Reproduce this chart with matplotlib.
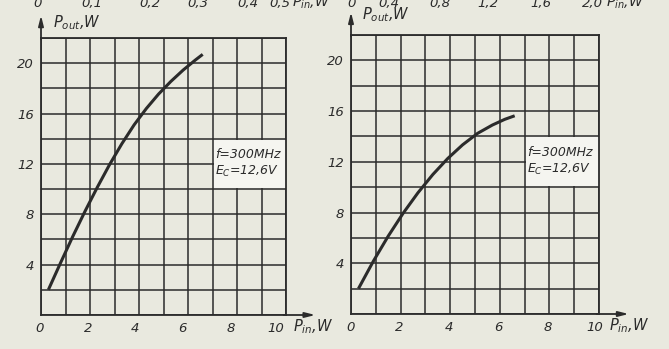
import matplotlib
matplotlib.use("Agg")
import matplotlib.pyplot as plt
from matplotlib.patches import Rectangle
from matplotlib.transforms import ScaledTranslation

# ---------------- data ----------------
left_pin = [0.3, 0.8, 1.3, 1.8, 2.3, 2.8, 3.3, 3.8, 4.3, 4.8, 5.3, 5.8, 6.3, 6.6]
left_pout = [2.0, 4.15, 6.25, 8.25, 10.15, 11.95, 13.6, 15.1, 16.4, 17.55, 18.55,
             19.45, 20.25, 20.7]

right_pin = [0.3, 0.9, 1.5, 2.1, 2.7, 3.3, 3.9, 4.5, 5.1, 5.7, 6.2, 6.6]
right_pout = [2.0, 4.16, 6.14, 7.94, 9.56, 11.0, 12.26, 13.34, 14.24, 14.9, 15.35, 15.63]

x_ticks = [0, 2, 4, 6, 8, 10]
x_tick_labels = ["0", "2", "4", "6", "8", "10"]
y_ticks = [4, 8, 12, 16, 20]
y_tick_labels = ["4", "8", "12", "16", "20"]

top_left_labels = ["0", "0,1", "0,2", "0,3", "0,4", "0,5"]
top_right_labels = ["0", "0,4", "0,8", "1,2", "1,6", "2,0"]

note_text = "f=300MHz\n$E_C$=12,6V"
xlabel_text = "$P_{in}$,W"
ylabel_text = "$P_{out}$,W"

# ---------------- style ----------------
BG = "#e9e9df"
INK = "#2b2b2b"
BOX = "#f5f5f0"
W, H = 669, 349

plt.rcParams["mathtext.fontset"] = "dejavusans"
plt.rcParams["font.family"] = ["DejaVu Sans"]

fig = plt.figure(figsize=(W / 100, H / 100), dpi=100, facecolor=BG)

panels = [
    dict(rect=[41.0 / W, 34 / H, 245 / W, 277 / H], x=left_pin, y=left_pout,
         ylab=(0.5, 23.2), xlab=(10.3, -0.95), top=top_left_labels,
         top_px=[38, 92, 150, 198, 248, 280], top_unit_px=292,
         xshift=[-1, -2, -4, -6, -6, -10]),
    dict(rect=[351 / W, 35 / H, 248 / W, 279 / H], x=right_pin, y=right_pout,
         ylab=(0.45, 23.6), xlab=(10.4, -0.95), top=top_right_labels,
         top_px=[352, 389, 440, 488, 541, 592], top_unit_px=606,
         xshift=[0, -1, -1, -1, -2, -4]),
]

for p in panels:
    ax = fig.add_axes(p["rect"])
    ax.set_facecolor(BG)
    ax.set_xlim(0, 10)
    ax.set_ylim(0, 22)
    ax.set_xticks(x_ticks)
    ax.set_xticklabels(x_tick_labels)
    ax.set_yticks(y_ticks)
    ax.set_yticklabels(y_tick_labels)
    ax.set_xticks(range(0, 11), minor=True)
    ax.set_yticks(range(0, 23, 2), minor=True)
    ax.tick_params(which="both", length=0)
    ax.tick_params(axis="x", pad=5, labelsize=9.5, colors=INK)
    ax.tick_params(axis="y", pad=5, labelsize=9.5, colors=INK)
    for lab in ax.get_xticklabels() + ax.get_yticklabels():
        lab.set_fontstyle("italic")
    for lab, dx in zip(ax.get_xticklabels(), p["xshift"]):
        lab.set_transform(lab.get_transform() +
                          ScaledTranslation(dx / 100, 0, fig.dpi_scale_trans))
    ax.set_axisbelow(True)
    ax.grid(which="both", color=INK, lw=1.1)
    for s in ax.spines.values():
        s.set_color(INK)
        s.set_linewidth(1.3)

    # white note box covering grid interior
    ax.add_patch(Rectangle((7.06, 10.08), 2.94, 3.84, facecolor=BOX,
                           edgecolor="none", zorder=1.5))
    ax.text(7.1, 12.0, note_text, fontsize=9, style="italic", color=INK,
            va="center", ha="left", linespacing=1.25, zorder=2)

    ax.plot(p["x"], p["y"], color=INK, lw=2.2, solid_capstyle="butt",
            solid_joinstyle="round", zorder=3)

    # axis arrows
    ax.annotate("", xy=(11.2, 0), xytext=(9.9, 0),
                arrowprops=dict(arrowstyle="-|>,head_length=0.6,head_width=0.15",
                                color=INK, lw=1.3, shrinkA=0, shrinkB=0),
                annotation_clip=False)
    ax.annotate("", xy=(0, 23.8), xytext=(0, 21.9),
                arrowprops=dict(arrowstyle="-|>,head_length=0.6,head_width=0.15",
                                color=INK, lw=1.3, shrinkA=0, shrinkB=0),
                annotation_clip=False)

    ax.text(p["ylab"][0], p["ylab"][1], ylabel_text, fontsize=10.5, style="italic",
            color=INK, va="center", ha="left", clip_on=False)
    ax.text(p["xlab"][0], p["xlab"][1], xlabel_text, fontsize=10.5, style="italic",
            color=INK, va="center", ha="left", clip_on=False)

    # cut-off scale of the chart above
    for lab, px in zip(p["top"], p["top_px"]):
        fig.text(px / W, 1 - 7 / H, lab, fontsize=9.5, style="italic", color=INK,
                 ha="center", va="baseline")
    fig.text(p["top_unit_px"] / W, 1 - 7 / H, xlabel_text, fontsize=10,
             style="italic", color=INK, ha="left", va="baseline")

fig.savefig("out.png", dpi=100, facecolor=BG)
